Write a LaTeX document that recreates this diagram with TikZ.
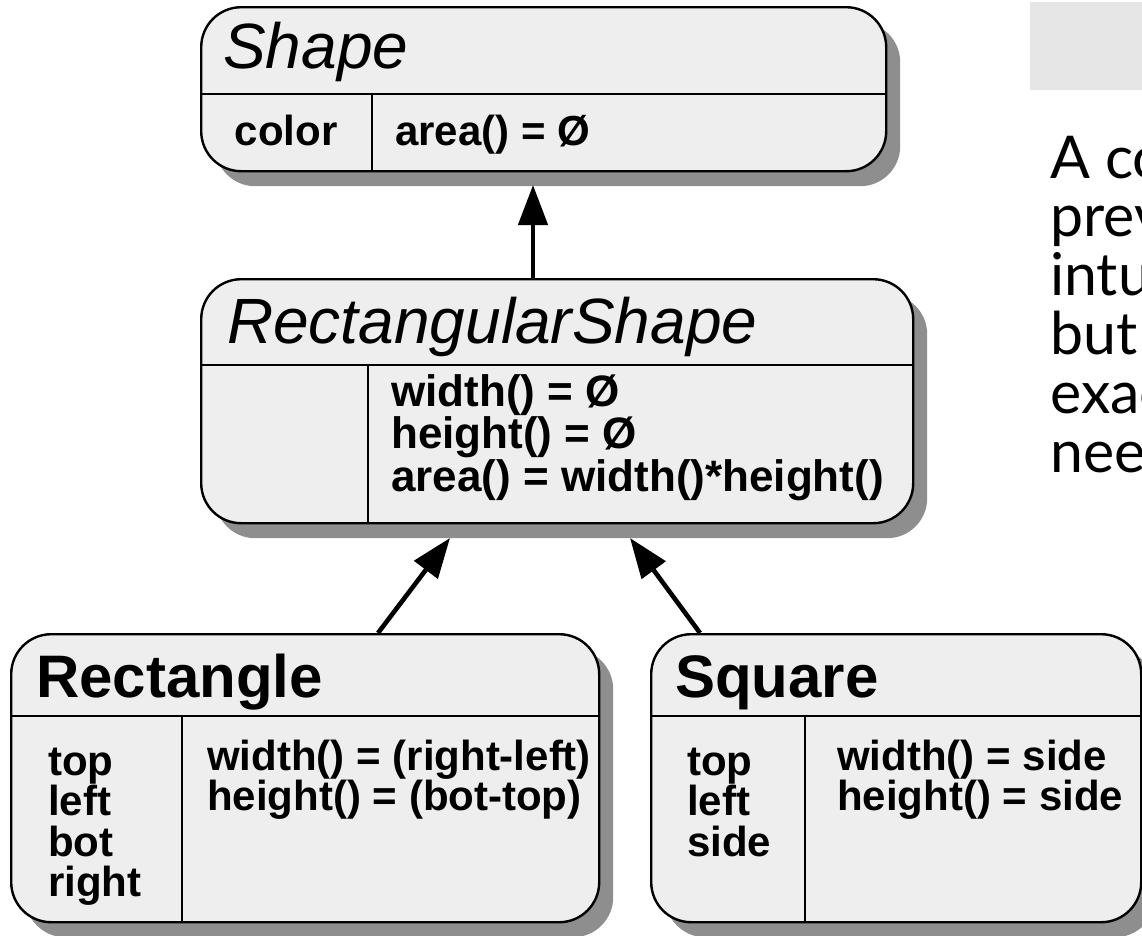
\documentclass[tikz,border=0pt]{standalone}
\usepackage{fontspec}
\setmainfont{Liberation Sans}
\newfontfamily\slidefont{Lato}
\usepackage{xcolor}
\usetikzlibrary{arrows.meta,shadows}

\definecolor{boxgray}{HTML}{EEEEEE}
\definecolor{shadowgray}{HTML}{8E8E8E}
\definecolor{slidegray}{HTML}{E6E6E6}

\tikzset{
  classe/.style={draw, line width=2.4pt, fill=boxgray, rounded corners=40pt, inner sep=0pt, anchor=north west,
    drop shadow={shadow xshift=14pt, shadow yshift=-15pt, fill=shadowgray, opacity=1}},
  divisore/.style={line width=1.6pt},
  eredita/.style={-{Triangle[length=40pt,width=29pt]}, line width=4.6pt},
  astratto/.style={anchor=base west, inner sep=0pt, font=\fontsize{64}{64}\selectfont\itshape},
  concreto/.style={anchor=base west, inner sep=0pt, font=\fontsize{60}{60}\selectfont\bfseries},
  membri/.style={anchor=base west, inner sep=0pt, align=left, font=\fontsize{42}{40.5}\selectfont\bfseries},
}

\begin{document}
\begin{tikzpicture}[x=1pt, y=-1pt]

    \useasboundingbox (0,0) rectangle (1142,935);
    \clip (0,0) rectangle (1142,935);

    % Testo della slide (la base e' quella dell'ultima riga)
    \fill[slidegray] (1030,2) rectangle (1150,90);
    \node[anchor=base west, inner sep=0pt, align=left, font=\slidefont\fontsize{59}{58.8}\selectfont] (testo) at (1050,472)
        {A co\\prev\\intu\\but\\exac\\nee};

    % Classi
    \node[classe, minimum width=685pt, minimum height=164pt] (shape) at (200,6) {};
    \node[classe, minimum width=712pt, minimum height=244pt] (rshape) at (200,278) {};
    \node[classe, minimum width=588pt, minimum height=288pt] (rect) at (10,633) {};
    \node[classe, minimum width=490pt, minimum height=288pt] (square) at (650,633) {};

    % Compartimenti
    \draw[divisore] (shape.west |- 0,94) -- (shape.east |- 0,94);
    \draw[divisore] (372,94) -- (372,0 |- shape.south);
    \draw[divisore] (rshape.west |- 0,365) -- (rshape.east |- 0,365);
    \draw[divisore] (368,365) -- (368,0 |- rshape.south);
    \draw[divisore] (rect.west |- 0,716) -- (rect.east |- 0,716);
    \draw[divisore] (182,716) -- (182,0 |- rect.south);
    \draw[divisore] (square.west |- 0,716) -- (square.east |- 0,716);
    \draw[divisore] (805,716) -- (805,0 |- square.south);

    % Etichette
    \node[astratto] (shapename) at (223,68) {Shape};
    \node[membri, anchor=base] (shapeattr) at (286,145) {color};
    \node[membri] (shapeop) at (395,145) {area() = Ø};

    \node[astratto] (rshapename) at (227,343) {RectangularShape};
    \node[membri, font=\fontsize{44}{39}\selectfont\bfseries] (rshapeop) at (391,491)
        {width() = Ø\\height() = Ø\\area() = width()*height()};

    \node[concreto] (rectname) at (36,697) {Rectangle};
    \node[membri] (rectattr) at (48,896.5) {top\\left\\bot\\right};
    \node[membri, font=\fontsize{42}{40}\selectfont\bfseries] (rectop) at (207,810)
        {width() = (right-left)\\height() = (bot-top)};

    \node[concreto] (squarename) at (675,697) {Square};
    \node[membri] (squareattr) at (687,856) {top\\left\\side};
    \node[membri, font=\fontsize{42}{40}\selectfont\bfseries] (squareop) at (837,810)
        {width() = side\\height() = side};

    % Ereditarieta
    \coordinate (tipshape) at (533,185);
    \coordinate (tiprect) at (450,538);
    \coordinate (tipsquare) at (630,538);
    \draw[eredita] (tipshape |- rshape.north) -- (tipshape);
    \draw[eredita] (378,0 |- rect.north) -- (tiprect);
    \draw[eredita] (700,0 |- square.north) -- (tipsquare);

\end{tikzpicture}
\end{document}
